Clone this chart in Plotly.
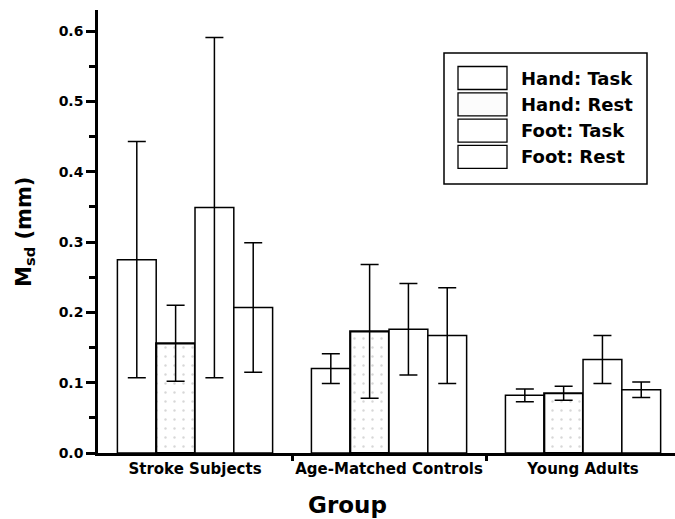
import plotly.graph_objects as go

# Movement variability (M_sd, mm) by subject group and condition
groups = ["Stroke Subjects", "Age-Matched Controls", "Young Adults"]
series_names = ["Hand: Task", "Hand: Rest", "Foot: Task", "Foot: Rest"]

hand_task = [0.275, 0.120, 0.082]
hand_task_err = [0.168, 0.021, 0.009]
hand_rest = [0.156, 0.173, 0.085]
hand_rest_err = [0.054, 0.095, 0.010]
foot_task = [0.349, 0.176, 0.133]
foot_task_err = [0.242, 0.065, 0.034]
foot_rest = [0.207, 0.167, 0.090]
foot_rest_err = [0.092, 0.068, 0.011]

values = [hand_task, hand_rest, foot_task, foot_rest]
errors = [hand_task_err, hand_rest_err, foot_task_err, foot_rest_err]
stippled = [False, True, False, False]

W, H = 675, 519
L, R, T, B = 98, 0, 10, 66
FONT = "DejaVu Sans"
x_pos = list(range(len(groups)))

fig = go.Figure()
for name, vals, errs, dots in zip(series_names, values, errors, stippled):
    marker = dict(color="white", line=dict(color="black", width=2.2 if dots else 1.5))
    if dots:
        marker["pattern"] = dict(shape=".", fgcolor="#b0b0b0", bgcolor="white",
                                 size=9, solidity=0.06)
    fig.add_trace(go.Bar(
        x=x_pos, y=vals, name=name, marker=marker,
        error_y=dict(type="data", array=errs, color="black", thickness=1.5, width=9),
        showlegend=False,
    ))

# pixel -> paper helpers for the hand-drawn legend and titles
pw, ph = W - L - R, H - T - B
def px(x):
    return (x - L) / pw
def py(y):
    return (H - B - y) / ph

shapes = [dict(type="rect", xref="paper", yref="paper",
               x0=px(444), x1=px(647), y0=py(53), y1=py(184),
               line=dict(color="black", width=1.5), fillcolor="white")]
annotations = []
for i, (name, dots) in enumerate(zip(series_names, stippled)):
    cy = 78 + 26.3 * i
    shapes.append(dict(type="rect", xref="paper", yref="paper",
                       x0=px(458), x1=px(507), y0=py(cy - 11.5), y1=py(cy + 11.5),
                       line=dict(color="black", width=1.3),
                       fillcolor="#fcfcfc" if dots else "white"))
    annotations.append(dict(xref="paper", yref="paper", x=px(519), y=py(cy),
                            xanchor="left", yanchor="middle", showarrow=False,
                            text=name, font=dict(family=FONT, size=18, color="black",
                                                 weight="bold")))

annotations.append(dict(xref="paper", yref="paper", x=px(347), y=py(505),
                        xanchor="center", yanchor="middle", showarrow=False,
                        text="Group", font=dict(family=FONT, size=23, color="black",
                                                weight="bold")))
annotations.append(dict(xref="paper", yref="paper", x=px(25), y=py(232),
                        xanchor="center", yanchor="middle", showarrow=False,
                        textangle=-90, text="M<sub>sd</sub> (mm)",
                        font=dict(family=FONT, size=21, color="black", weight="bold")))

fig.update_layout(
    width=W, height=H,
    margin=dict(l=L, r=R, t=T, b=B),
    paper_bgcolor="white", plot_bgcolor="white",
    barmode="group", bargap=0.2, bargroupgap=0.0,
    font=dict(family=FONT, color="black"),
    shapes=shapes, annotations=annotations,
    xaxis=dict(
        range=[-0.5, 2.474], showgrid=False, zeroline=False,
        showline=True, linecolor="black", linewidth=3,
        tickmode="array", tickvals=x_pos, ticktext=groups,
        ticks="outside", ticklen=0, tickwidth=1, tickcolor="white",
        tickfont=dict(family=FONT, size=15, color="black", weight="bold"),
        minor=dict(tickmode="array", tickvals=[0.5, 1.5], ticks="outside",
                   ticklen=5, tickwidth=2.5, tickcolor="black"),
    ),
    xaxis2=dict(
        overlaying="x", anchor="y", side="bottom", range=[-0.5, 2.474],
        showgrid=False, zeroline=False, showline=False, showticklabels=False,
        tickmode="array", tickvals=[0.5, 1.5], ticks="inside",
        ticklen=6, tickwidth=2.5, tickcolor="black",
    ),
    yaxis=dict(
        range=[0, 0.63], showgrid=False, zeroline=False,
        showline=True, linecolor="black", linewidth=2.5,
        tickmode="linear", tick0=0, dtick=0.1, tickformat=".1f",
        ticks="outside", ticklen=9, tickwidth=2.5, tickcolor="black",
        tickfont=dict(family=FONT, size=14, color="black", weight="bold"),
        minor=dict(dtick=0.05, ticks="outside", ticklen=6, tickwidth=2.5,
                   tickcolor="black"),
    ),
)

fig.write_html("out.html")
